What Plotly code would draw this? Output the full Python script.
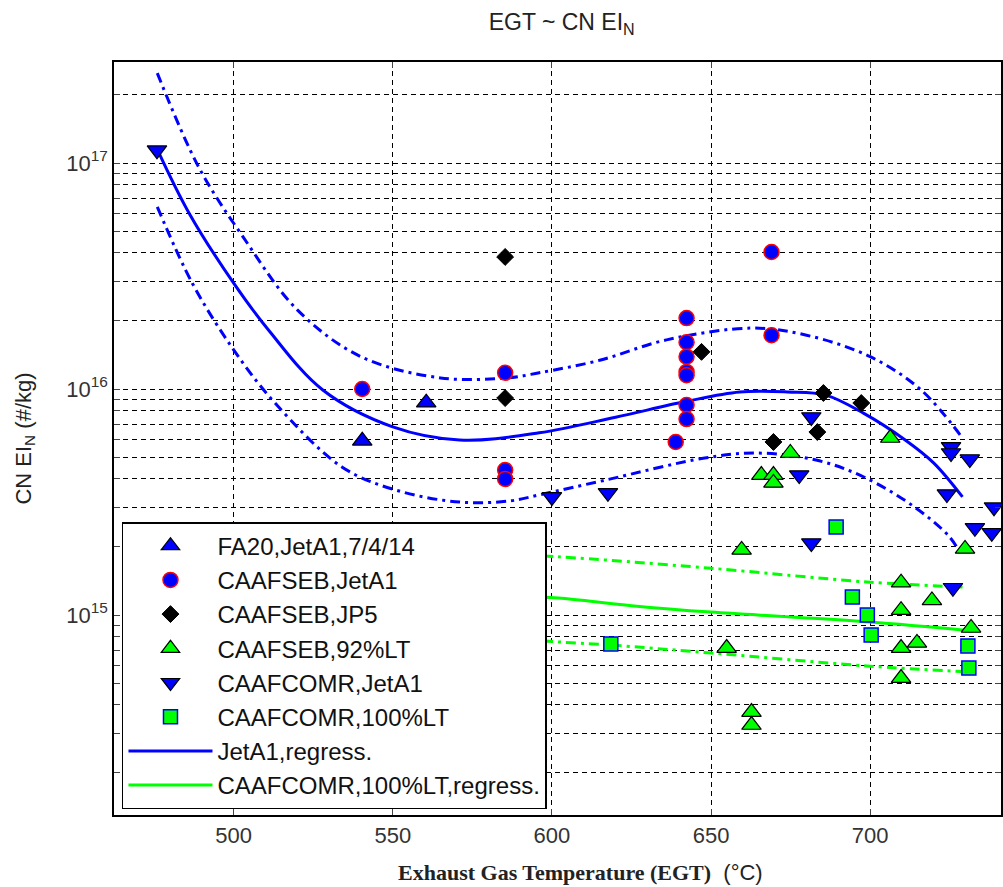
import plotly.graph_objects as go

# ---------------- data ----------------
fa20_x = [540.4, 560.5]
fa20_y = [5.9e15, 8.7e15]

seb_jet_x = [540.4, 585.3, 585.3, 585.3, 669.0, 669.0, 642.3, 642.3, 642.3, 642.3, 642.3, 642.3, 642.3, 638.9]
seb_jet_y = [1.0e16, 1.18e16, 4.38e15, 4.0e15, 4.04e16, 1.73e16, 2.06e16, 1.61e16, 1.39e16, 1.19e16, 1.15e16, 8.5e15, 7.36e15, 5.83e15]

seb_jp5_x = [585.3, 585.3, 647.0, 685.3, 697.2, 683.4, 669.6]
seb_jp5_y = [3.84e16, 9.12e15, 1.46e16, 9.6e15, 8.67e15, 6.45e15, 5.83e15]

seb_lt_x = [674.9, 665.8, 669.6, 669.6, 706.3, 659.6, 654.9, 662.7, 662.7, 709.7, 709.7, 719.4, 709.7, 714.7, 709.7, 731.7, 729.8]
seb_lt_y = [5.21e15, 4.16e15, 4.16e15, 3.84e15, 6.07e15, 1.94e15, 7.14e14, 3.72e14, 3.26e14, 1.39e15, 1.05e15, 1.16e15, 7.14e14, 7.52e14, 5.26e14, 8.76e14, 1.96e15]

comr_jet_x = [475.9, 600.0, 617.6, 681.5, 677.7, 725.4, 725.4, 731.3, 724.1, 738.9, 732.9, 738.2, 681.5, 726.0]
comr_jet_y = [1.14e17, 3.33e15, 3.47e15, 7.52e15, 4.16e15, 5.54e15, 5.21e15, 4.9e15, 3.43e15, 3.0e15, 2.43e15, 2.31e15, 2.08e15, 1.32e15]

comr_lt_x = [689.3, 694.4, 699.1, 700.3, 618.5, 730.7, 731.0]
comr_lt_y = [2.45e15, 1.2e15, 1.0e15, 8.16e14, 7.45e14, 7.3e14, 5.82e14]

# JetA1 regression and band
jet_reg_x = [476, 486, 500, 511, 528, 550, 571, 596, 620, 642, 659, 674, 686, 698, 711, 720, 729]
jet_reg_y = [1.15e17, 6.0e16, 2.94e16, 1.82e16, 9.9e15, 6.8e15, 5.95e15, 6.4e15, 7.5e15, 8.8e15, 9.7e15, 9.7e15, 9.4e15, 7.8e15, 5.95e15, 4.7e15, 3.33e15]
jet_up_x = [476, 489, 503, 520, 540, 565, 586, 596, 615, 636, 663, 680, 700, 716, 729]
jet_up_y = [2.5e17, 9.6e16, 4.7e16, 2.24e16, 1.39e16, 1.12e16, 1.12e16, 1.18e16, 1.34e16, 1.65e16, 1.86e16, 1.73e16, 1.39e16, 9.9e15, 6.07e15]
jet_lo_x = [476, 487, 500, 513, 534, 551, 571, 587, 596, 617, 648, 664, 683, 698, 714, 725, 729]
jet_lo_y = [6.4e16, 2.94e16, 1.49e16, 8.67e15, 4.52e15, 3.57e15, 3.16e15, 3.2e15, 3.4e15, 3.96e15, 4.95e15, 5.21e15, 4.85e15, 4.08e15, 3.0e15, 2.21e15, 1.8e15]

# CAAFCOMR 100%LT regression and band (left part hidden behind the legend)
lt_reg_x = [590, 602, 625, 650, 675, 700, 732]
lt_reg_y = [1.21e15, 1.19e15, 1.1e15, 1.03e15, 9.8e14, 9.3e14, 8.5e14]
lt_up_x = [590, 602, 650, 699, 729]
lt_up_y = [1.84e15, 1.81e15, 1.61e15, 1.4e15, 1.33e15]
lt_lo_x = [590, 602, 618, 650, 699, 731]
lt_lo_y = [7.8e14, 7.6e14, 7.37e14, 6.79e14, 5.95e14, 5.6e14]

x_ticks = [500, 550, 600, 650, 700, 750]

BLUE = "#0000ff"
GREEN = "#00ff00"
RED = "#ff0000"
DASHDOT = "10px,5px,3px,5px"

fig = go.Figure()

# regression bands first (under markers)
fig.add_trace(go.Scatter(x=jet_up_x, y=jet_up_y, mode="lines", showlegend=False,
                         line=dict(color=BLUE, width=3, dash=DASHDOT, shape="spline")))
fig.add_trace(go.Scatter(x=jet_lo_x, y=jet_lo_y, mode="lines", showlegend=False,
                         line=dict(color=BLUE, width=3, dash=DASHDOT, shape="spline")))
fig.add_trace(go.Scatter(x=lt_up_x, y=lt_up_y, mode="lines", showlegend=False,
                         line=dict(color=GREEN, width=3, dash=DASHDOT, shape="spline")))
fig.add_trace(go.Scatter(x=lt_lo_x, y=lt_lo_y, mode="lines", showlegend=False,
                         line=dict(color=GREEN, width=3, dash=DASHDOT, shape="spline")))

marker_traces = [
    ("FA20,JetA1,7/4/14", fa20_x, fa20_y, dict(symbol="triangle-up", size=17, color=BLUE, line=dict(color="black", width=1.2))),
    ("CAAFSEB,JetA1", seb_jet_x, seb_jet_y, dict(symbol="circle", size=15, color=BLUE, line=dict(color=RED, width=1.5))),
    ("CAAFSEB,JP5", seb_jp5_x, seb_jp5_y, dict(symbol="diamond", size=13, color="black", line=dict(color="black", width=1))),
    ("CAAFSEB,92%LT", seb_lt_x, seb_lt_y, dict(symbol="triangle-up", size=17, color=GREEN, line=dict(color="black", width=1.2))),
    ("CAAFCOMR,JetA1", comr_jet_x, comr_jet_y, dict(symbol="triangle-down", size=17, color=BLUE, line=dict(color="black", width=1.2))),
    ("CAAFCOMR,100%LT", comr_lt_x, comr_lt_y, dict(symbol="square", size=14, color=GREEN, line=dict(color=BLUE, width=1.5))),
]

fig.add_trace(go.Scatter(x=jet_reg_x, y=jet_reg_y, mode="lines", name="JetA1,regress.",
                         legendrank=7, line=dict(color=BLUE, width=3, shape="spline")))
fig.add_trace(go.Scatter(x=lt_reg_x, y=lt_reg_y, mode="lines", name="CAAFCOMR,100%LT,regress.",
                         legendrank=8, line=dict(color=GREEN, width=3, shape="spline")))

for i, (name, xs, ys, mk) in enumerate(marker_traces):
    fig.add_trace(go.Scatter(x=xs, y=ys, mode="markers", name=name, marker=mk,
                             legendrank=i + 1, cliponaxis=True))

# y tick values: every 1..9 x decade (gridlines), labels only on powers of ten
y_tickvals = []
y_ticktext = []
for e in range(14, 18):
    for m in range(1, 10):
        v = m * 10 ** e
        if 1.3e14 <= v <= 2.8e17:
            y_tickvals.append(v)
            y_ticktext.append(f"10<sup>{e}</sup>" if m == 1 else "")

GRID_DASH = "5px,4px"
NB = "\u00a0"

fig.update_layout(
    width=1003, height=887,
    margin=dict(l=114, r=0, t=62, b=72),
    plot_bgcolor="white", paper_bgcolor="white",
    font=dict(family="Liberation Sans, Arial, sans-serif", size=22, color="#222222"),
    title=dict(text="EGT ~ CN EI<sub>N</sub>", x=0.56, xanchor="center", y=0.975, yanchor="middle",
               font=dict(size=23, color="#222222")),
    showlegend=True,
    legend=dict(x=0.009, y=0.389, xanchor="left", yanchor="top",
                bgcolor="white", bordercolor="black", borderwidth=1.5,
                font=dict(size=24, color="#111111"), itemwidth=84,
                traceorder="normal", tracegroupgap=0),
    xaxis=dict(range=[462.4, 741.1], tickvals=x_ticks, ticks="inside", ticklen=6,
               showline=True, linecolor="black", linewidth=1.5, mirror="ticks",
               showgrid=True, gridcolor="black", gridwidth=1.1, griddash=GRID_DASH,
               zeroline=False, tickfont=dict(size=22, color="#333333")),
    yaxis=dict(type="log", range=[14.115, 17.447], tickvals=y_tickvals, ticktext=y_ticktext,
               ticks="inside", ticklen=6, showline=True, linecolor="black", linewidth=1.5, mirror="ticks",
               showgrid=True, gridcolor="black", gridwidth=1.1, griddash=GRID_DASH,
               zeroline=False, tickfont=dict(size=22, color="#333333"),
               title=dict(text="CN EI<sub>N</sub> (#/kg)", font=dict(size=22, color="#222222"), standoff=29)),
    annotations=[dict(
        text='<span style="font-family:Liberation Serif"><b>Exhaust Gas Temperature (EGT)</b></span>' + NB * 2 + '(°C)',
        xref="paper", yref="paper", x=0.5264, y=-0.0945, xanchor="center", yanchor="bottom",
        showarrow=False, borderpad=0, font=dict(size=22, color="#222222"))],
)

fig.write_html("out.html")
